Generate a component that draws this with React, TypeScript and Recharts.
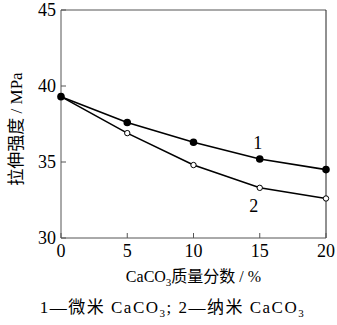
import { LineChart, Line, XAxis, YAxis, ReferenceLine } from "recharts";

// CaCO3 质量分数 (%)
const massFraction = [0, 5, 10, 15, 20];
// 1 — 微米 CaCO3
const microCaCO3 = [39.3, 37.6, 36.3, 35.2, 34.5];
// 2 — 纳米 CaCO3
const nanoCaCO3 = [39.3, 36.9, 34.8, 33.3, 32.6];

const xTicks = [0, 5, 10, 15, 20];
const yTicks = [30, 35, 40, 45];
const seriesNames = ["1", "2"];
const labelIndex = 3;

const data = massFraction.map((x, i) => ({
    x,
    micro: microCaCO3[i],
    nano: nanoCaCO3[i],
}));

const FONT = "'Liberation Serif', 'Noto Sans CJK SC', serif";
const AXIS = "#555";

const YTick = (props: any) => {
    const { x, y, payload } = props;
    return (
        <g>
            <line x1={x} x2={x + 5} y1={y} y2={y} stroke={AXIS} />
            <text x={x - 5} y={y} dy={6} textAnchor="end" fontSize={18} fontFamily={FONT} fill="#000">
                {payload.value}
            </text>
        </g>
    );
};

const XTick = (props: any) => {
    const { x, y, payload } = props;
    return (
        <g>
            <line x1={x} x2={x} y1={y} y2={y - 5} stroke={AXIS} />
            <text x={x} y={y + 19} textAnchor="middle" fontSize={18} fontFamily={FONT} fill="#000">
                {payload.value}
            </text>
        </g>
    );
};

const XLabel = (props: any) => {
    const { viewBox } = props;
    const cx = viewBox.x + viewBox.width / 2;
    return (
        <text x={cx} y={viewBox.y + 44} textAnchor="middle" fontSize={16} fontFamily={FONT} fill="#000">
            CaCO<tspan fontSize={11} dy={4}>3</tspan>
            <tspan dy={-4}>质量分数 / %</tspan>
        </text>
    );
};

const YLabel = (props: any) => {
    const { viewBox } = props;
    const cy = viewBox.y + viewBox.height / 2 + 5;
    return (
        <text
            x={22}
            y={cy}
            transform={`rotate(-90 22 ${cy})`}
            textAnchor="middle"
            fontSize={17}
            fontFamily={FONT}
            fill="#000"
        >
            拉伸强度 / MPa
        </text>
    );
};

const seriesLabel = (name: string, dx: number, dy: number) => (props: any) => {
    if (props.index !== labelIndex) return null;
    return (
        <text x={props.x + dx} y={props.y + dy} textAnchor="middle" fontSize={18} fontFamily={FONT} fill="#000">
            {name}
        </text>
    );
};

export default function App() {
    return (
        <div style={{ position: "absolute", left: 0, top: 0, width: 337, height: 325, background: "#fff" }}>
            <LineChart width={337} height={325} data={data} margin={{ top: 10, right: 11, left: 0, bottom: 37 }}>
                <XAxis
                    dataKey="x"
                    type="number"
                    domain={[0, 20]}
                    ticks={xTicks}
                    height={50}
                    tickSize={0}
                    tickMargin={0}
                    tick={<XTick />}
                    stroke={AXIS}
                    label={<XLabel />}
                />
                <YAxis
                    type="number"
                    domain={[30, 45]}
                    ticks={yTicks}
                    width={61}
                    tickSize={0}
                    tickMargin={0}
                    tick={<YTick />}
                    stroke={AXIS}
                    label={<YLabel />}
                />
                <ReferenceLine y={45} stroke={AXIS} />
                <ReferenceLine x={20} stroke="#222" />
                <Line
                    dataKey="nano"
                    stroke="#000"
                    strokeWidth={1.6}
                    dot={{ r: 2.7, fill: "#fff", stroke: "#000", strokeWidth: 1 }}
                    label={seriesLabel(seriesNames[1], -6, 24)}
                    isAnimationActive={false}
                />
                <Line
                    dataKey="micro"
                    stroke="#000"
                    strokeWidth={1.6}
                    dot={{ r: 3, fill: "#000", stroke: "#000" }}
                    label={seriesLabel(seriesNames[0], -2, -10)}
                    isAnimationActive={false}
                />
            </LineChart>
            <div
                style={{
                    position: "absolute",
                    left: 0,
                    width: 345,
                    top: 293,
                    textAlign: "center",
                    fontFamily: FONT,
                    fontSize: 17,
                    letterSpacing: 1.5,
                    color: "#000",
                    whiteSpace: "pre",
                }}
            >
                1—微米 CaCO<sub style={{ fontSize: 11 }}>3</sub>; 2—纳米 CaCO<sub style={{ fontSize: 11 }}>3</sub>
            </div>
        </div>
    );
}
